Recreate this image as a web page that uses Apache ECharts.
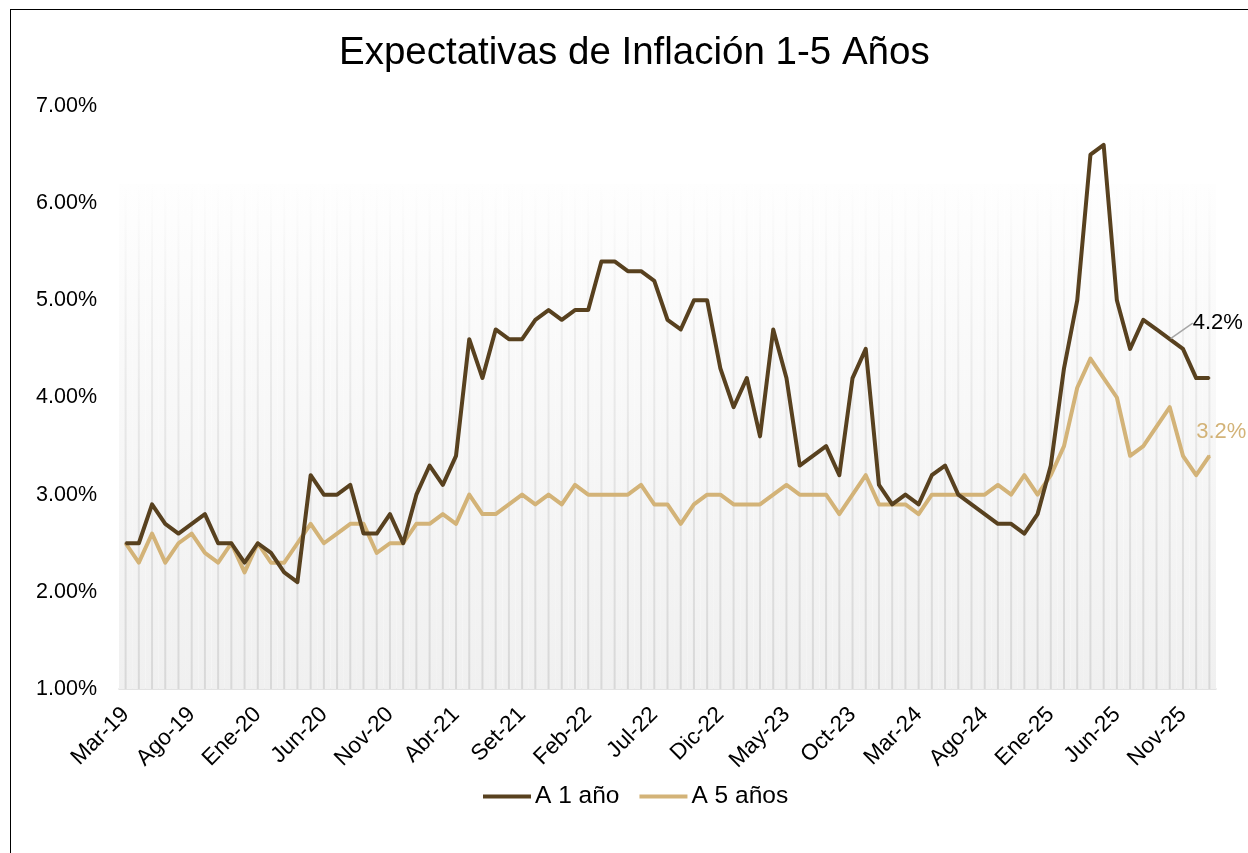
<!DOCTYPE html>
<html>

<head>
    <meta charset='UTF-8'>
    <script src="https://cdn.jsdelivr.net/npm/echarts@6/dist/echarts.min.js"></script>
    <style>
        html, body {
            margin: 0;
            padding: 0;
            background: #ffffff;
        }

        #marco {
            position: absolute;
            left: 10px;
            top: 9px;
            width: 1300px;
            height: 900px;
            border-left: 1px solid #000;
            border-top: 1px solid #000;
        }

        #chart-expectativas {
            position: absolute;
            left: 0;
            top: 0;
            width: 1248px;
            height: 853px;
        }
    </style>
    <title>Expectativas de Inflación</title>
</head>

<body>
    <div id="marco"></div>
    <div id="chart-expectativas"></div>

    <script>
        // meses Mar-19 ... Ene-26
        var categorias = [
            'Mar-19', 'Abr-19', 'May-19', 'Jun-19', 'Jul-19', 'Ago-19', 'Set-19', 'Oct-19', 'Nov-19', 'Dic-19',
            'Ene-20', 'Feb-20', 'Mar-20', 'Abr-20', 'May-20', 'Jun-20', 'Jul-20', 'Ago-20', 'Set-20', 'Oct-20',
            'Nov-20', 'Dic-20', 'Ene-21', 'Feb-21', 'Mar-21', 'Abr-21', 'May-21', 'Jun-21', 'Jul-21', 'Ago-21',
            'Set-21', 'Oct-21', 'Nov-21', 'Dic-21', 'Ene-22', 'Feb-22', 'Mar-22', 'Abr-22', 'May-22', 'Jun-22',
            'Jul-22', 'Ago-22', 'Set-22', 'Oct-22', 'Nov-22', 'Dic-22', 'Ene-23', 'Feb-23', 'Mar-23', 'Abr-23',
            'May-23', 'Jun-23', 'Jul-23', 'Ago-23', 'Set-23', 'Oct-23', 'Nov-23', 'Dic-23', 'Ene-24', 'Feb-24',
            'Mar-24', 'Abr-24', 'May-24', 'Jun-24', 'Jul-24', 'Ago-24', 'Set-24', 'Oct-24', 'Nov-24', 'Dic-24',
            'Ene-25', 'Feb-25', 'Mar-25', 'Abr-25', 'May-25', 'Jun-25', 'Jul-25', 'Ago-25', 'Set-25', 'Oct-25',
            'Nov-25', 'Dic-25', 'Ene-26'
        ];

        var unAno = [
            2.5, 2.5, 2.9, 2.7, 2.6, 2.7, 2.8, 2.5, 2.5, 2.3,
            2.5, 2.4, 2.2, 2.1, 3.2, 3.0, 3.0, 3.1, 2.6, 2.6,
            2.8, 2.5, 3.0, 3.3, 3.1, 3.4, 4.6, 4.2, 4.7, 4.6,
            4.6, 4.8, 4.9, 4.8, 4.9, 4.9, 5.4, 5.4, 5.3, 5.3,
            5.2, 4.8, 4.7, 5.0, 5.0, 4.3, 3.9, 4.2, 3.6, 4.7,
            4.2, 3.3, 3.4, 3.5, 3.2, 4.2, 4.5, 3.1, 2.9, 3.0,
            2.9, 3.2, 3.3, 3.0, 2.9, 2.8, 2.7, 2.7, 2.6, 2.8,
            3.3, 4.3, 5.0, 6.5, 6.6, 5.0, 4.5, 4.8, 4.7, 4.6,
            4.5, 4.2, 4.2
        ];

        var cincoAnos = [
            2.5, 2.3, 2.6, 2.3, 2.5, 2.6, 2.4, 2.3, 2.5, 2.2,
            2.5, 2.3, 2.3, 2.5, 2.7, 2.5, 2.6, 2.7, 2.7, 2.4,
            2.5, 2.5, 2.7, 2.7, 2.8, 2.7, 3.0, 2.8, 2.8, 2.9,
            3.0, 2.9, 3.0, 2.9, 3.1, 3.0, 3.0, 3.0, 3.0, 3.1,
            2.9, 2.9, 2.7, 2.9, 3.0, 3.0, 2.9, 2.9, 2.9, 3.0,
            3.1, 3.0, 3.0, 3.0, 2.8, 3.0, 3.2, 2.9, 2.9, 2.9,
            2.8, 3.0, 3.0, 3.0, 3.0, 3.0, 3.1, 3.0, 3.2, 3.0,
            3.2, 3.5, 4.1, 4.4, 4.2, 4.0, 3.4, 3.5, 3.7, 3.9,
            3.4, 3.2, 3.4
        ];

        var ticksY = [1, 2, 3, 4, 5, 6, 7];
        var techoFondo = 6.2;   // alto del fondo degradado

        var colorUno = '#58411f';
        var colorCinco = '#d3b378';
        var fuente = 'Liberation Sans, Arial, sans-serif';

        // etiquetas: A 1 año sale de Oct-25, A 5 años de Dic-25
        var idxEtiqUno = 79;
        var idxEtiqCinco = 81;

        var myChart = echarts.init(document.getElementById('chart-expectativas'), null, {
            renderer: 'canvas'
        });

        var dataUno = unAno.map(function (v, i) {
            if (i !== idxEtiqUno) return v;
            return {
                value: v,
                label: {
                    show: true,
                    position: 'right',
                    fontSize: 22,
                    color: '#000',
                    fontFamily: fuente,
                    formatter: function () {
                        return unAno[unAno.length - 1].toFixed(1) + '%';
                    }
                },
                labelLine: {
                    show: true,
                    lineStyle: { color: '#a6a6a6', width: 1.5 }
                }
            };
        });

        var dataCinco = cincoAnos.map(function (v, i) {
            if (i !== idxEtiqCinco) return v;
            return {
                value: v,
                label: {
                    show: true,
                    position: 'right',
                    fontSize: 22,
                    color: colorCinco,
                    fontFamily: fuente,
                    formatter: function (p) {
                        return p.value.toFixed(1) + '%';
                    }
                }
            };
        });

        var option = {
            backgroundColor: 'rgba(0,0,0,0)',
            animation: false,
            textStyle: { fontFamily: fuente },
            title: {
                text: 'Expectativas de Inflación 1-5 Años',
                left: 334,
                top: 29,
                textStyle: {
                    fontSize: 38.5,
                    fontWeight: 'normal',
                    color: '#000',
                    fontFamily: fuente
                }
            },
            legend: {
                data: ['A 1 año', 'A 5 años'],
                left: 478,
                top: 779,
                icon: 'rect',
                itemWidth: 48,
                itemHeight: 4,
                itemGap: 20,
                textStyle: {
                    fontSize: 24.5,
                    color: '#000',
                    fontFamily: fuente,
                    padding: [0, 0, 0, -1]
                }
            },
            grid: {
                left: 119,
                right: 32,
                top: 106,
                bottom: 164
            },
            xAxis: [{
                type: 'category',
                data: categorias,
                boundaryGap: true,
                axisLine: {
                    lineStyle: { color: '#d9d9d9', width: 1.5 }
                },
                axisTick: { show: false },
                axisLabel: {
                    interval: 4,
                    rotate: 45,
                    margin: 22,
                    fontSize: 22.5,
                    color: '#000',
                    fontFamily: fuente
                },
                splitLine: { show: false }
            }, {
                type: 'category',
                data: categorias,
                boundaryGap: true,
                show: false
            }],
            yAxis: {
                type: 'value',
                min: ticksY[0],
                max: ticksY[ticksY.length - 1],
                interval: 1,
                axisLine: { show: false },
                axisTick: { show: false },
                splitLine: { show: false },
                axisLabel: {
                    margin: 22,
                    fontSize: 21.5,
                    color: '#000',
                    fontFamily: fuente,
                    formatter: function (v) {
                        return v.toFixed(2) + '%';
                    }
                }
            },
            series: [{
                // fondo degradado
                name: 'fondo',
                type: 'bar',
                xAxisIndex: 1,
                barWidth: '100%',
                barCategoryGap: 0,
                silent: true,
                z: 1,
                itemStyle: {
                    color: {
                        type: 'linear',
                        x: 0, y: 0, x2: 0, y2: 1,
                        colorStops: [
                            { offset: 0, color: '#fefefe' },
                            { offset: 1, color: '#f0f0f0' }
                        ]
                    }
                },
                data: categorias.map(function () { return techoFondo; })
            }, {
                // lineas verticales
                name: 'rejilla',
                type: 'bar',
                xAxisIndex: 0,
                barWidth: 2,
                silent: true,
                z: 2,
                itemStyle: {
                    color: {
                        type: 'linear',
                        x: 0, y: 0, x2: 0, y2: 1,
                        colorStops: [
                            { offset: 0, color: 'rgba(215,215,215,0)' },
                            { offset: 0.3, color: 'rgba(215,215,215,0.35)' },
                            { offset: 1, color: '#d8d8d8' }
                        ]
                    }
                },
                data: categorias.map(function () { return techoFondo; })
            }, {
                name: 'A 1 año',
                type: 'line',
                z: 4,
                data: dataUno,
                symbol: 'circle',
                symbolSize: 2,
                showSymbol: true,
                itemStyle: { color: colorUno },
                lineStyle: { color: colorUno, width: 4, join: 'round' },
                labelLayout: { dx: 17, dy: -16 }
            }, {
                name: 'A 5 años',
                type: 'line',
                z: 3,
                data: dataCinco,
                symbol: 'circle',
                symbolSize: 2,
                showSymbol: true,
                itemStyle: { color: colorCinco },
                lineStyle: { color: colorCinco, width: 4, join: 'round' },
                labelLayout: { dx: -6, dy: -43 }
            }]
        };

        myChart.setOption(option);
        window.addEventListener('resize', myChart.resize);
    </script>
</body>

</html>
